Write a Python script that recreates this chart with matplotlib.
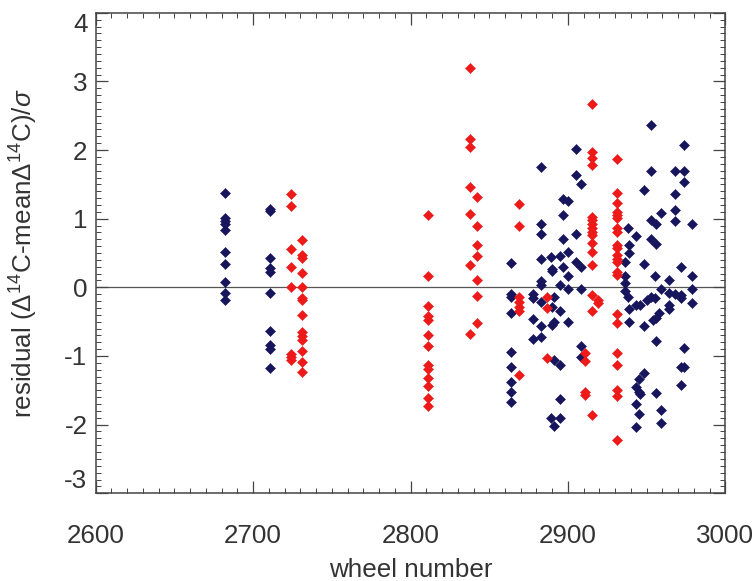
import numpy as np
import matplotlib
matplotlib.use("Agg")
import matplotlib.pyplot as plt
from matplotlib.ticker import MultipleLocator

# wheel numbers / normalised residuals
navy_x = [2682, 2682, 2682, 2682, 2682, 2682, 2682, 2682, 2682, 2682,
          2711, 2711, 2711, 2711, 2711, 2711, 2711, 2711, 2711, 2711,
          2864, 2864, 2864, 2864, 2864, 2864, 2864, 2864, 2864,
          2878, 2878, 2878, 2878,
          2883, 2883, 2883, 2883, 2883, 2883, 2883, 2883, 2883,
          2889, 2890, 2891, 2890, 2891, 2890, 2891, 2889, 2891, 2890,
          2895, 2895, 2895, 2895, 2895, 2895,
          2897, 2897, 2897, 2897,
          2900, 2900, 2900, 2900, 2900,
          2905, 2905, 2905, 2905,
          2908, 2908, 2908, 2908, 2908,
          2936, 2936, 2936, 2936, 2938,
          2938, 2939, 2939, 2939, 2939,
          2943, 2943, 2943, 2943, 2943,
          2946, 2945, 2945, 2946, 2945,
          2948, 2948, 2948, 2948, 2950,
          2953, 2953, 2953, 2953, 2953, 2954,
          2956, 2956, 2959, 2955, 2958, 2956, 2955,
          2956, 2956, 2959, 2959, 2959,
          2964, 2964, 2964, 2964,
          2968, 2968, 2968, 2968, 2968,
          2972, 2972, 2972, 2972, 2972,
          2974, 2974, 2974, 2974, 2974,
          2979, 2979, 2979, 2979]
navy_y = [1.38, 1.01, 0.97, 0.92, 0.83, 0.51, 0.34, 0.08, -0.08, -0.18,
          1.14, 1.11, 0.43, 0.28, 0.23, -0.08, -0.63, -0.84, -0.90, -1.18,
          0.36, -0.09, -0.14, -0.37, -0.94, -1.16, -1.38, -1.52, -1.67,
          -0.10, -0.16, -0.46, -0.75,
          1.76, 0.93, 0.78, 0.41, 0.09, 0.03, -0.21, -0.57, -0.73,
          0.44, 0.24, -0.14, -0.28, -0.50, -0.55, -1.06, -1.90, -2.02, 0.26,
          0.46, 0.04, -0.35, -1.13, -1.90, -1.63,
          1.29, 1.05, 0.70, 0.30,
          1.26, 0.52, 0.16, -0.02, -0.50,
          2.01, 1.64, 0.77, 0.37,
          1.50, 0.30, -0.03, -0.86, -1.02,
          0.37, 0.16, 0.06, -0.06, -0.14,
          0.86, 0.62, 0.50, -0.32, -0.50,
          0.75, -0.25, -1.45, -1.70, -2.03,
          -0.26, -1.33, -1.52, -1.55, -1.84,
          1.42, 0.34, -0.56, -1.25, -0.18,
          2.37, 1.69, 0.98, 0.71, -0.14, -0.47,
          0.92, 0.63, 1.08, 0.17, -0.38, -0.45, -0.16,
          -0.78, -1.54, -1.79, -1.97, -0.03,
          0.10, -0.08, -0.26, -0.31,
          1.69, 1.36, 1.13, 0.96, -0.09,
          0.30, -0.11, -0.16, -1.16, -1.42,
          2.08, 1.69, 1.53, -0.89, -1.16,
          0.92, 0.16, -0.03, -0.23]

red_x = [2724] * 8 + [2731] * 14 + [2811] * 13 + [2838] * 7 + [2842] * 7 \
    + [2869] * 7 + [2887] * 3 + [2911] * 4 + [2915] * 16 + [2919] * 2 + [2931] * 22
red_y = [1.36, 1.19, 0.56, 0.29, 0.01, -0.97, -1.02, -1.06,
         0.69, 0.47, 0.43, 0.21, 0.00, -0.15, -0.19, -0.40, -0.65, -0.71, -0.77, -0.93, -1.09, -1.24,
         1.06, 0.17, -0.27, -0.42, -0.48, -0.70, -0.85, -1.13, -1.19, -1.32, -1.43, -1.61, -1.73,
         3.20, 2.16, 2.04, 1.46, 1.07, 0.33, -0.68,
         1.32, 0.90, 0.61, 0.45, 0.11, -0.13, -0.52,
         1.21, 0.90, -0.14, -0.21, -0.28, -0.35, -1.28,
         -0.14, -0.30, -1.03,
         -0.96, -1.08, -1.52, -1.57,
         2.67, 1.97, 1.88, 1.78, 1.03, 0.98, 0.92, 0.87, 0.81, 0.76, 0.65, 0.51, 0.32, -0.11, -0.35, -1.86,
         -0.18, -0.23,
         1.87, 1.38, 1.23, 1.10, 1.05, 1.01, 0.86, 0.81, 0.62, 0.57, 0.47, 0.42, 0.37, 0.23, 0.18,
         -0.39, -0.52, -0.96, -1.13, -1.49, -1.58, -2.23]

x_ticks = [2600, 2700, 2800, 2900, 3000]
y_ticks = [-3, -2, -1, 0, 1, 2, 3, 4]

plt.rcParams['font.family'] = ['Liberation Sans', 'DejaVu Sans']
plt.rcParams['mathtext.fontset'] = 'custom'
plt.rcParams['mathtext.rm'] = 'Liberation Sans'
plt.rcParams['mathtext.it'] = 'Liberation Sans:italic'
plt.rcParams['axes.unicode_minus'] = False

txt = '#333333'
fig = plt.figure(figsize=(7.54, 5.81), dpi=100)
ax = fig.add_axes([0.127, 0.151, 0.835, 0.827])

ax.axhline(0, color='#555555', linewidth=0.9, zorder=1)
ax.plot(navy_x, navy_y, 'D', color='#17165c', markersize=4.9, markeredgewidth=0.4, zorder=3)
ax.plot(red_x, red_y, 'D', color='#ee1a1a', markersize=4.9, markeredgewidth=0.4, zorder=3)

ax.set_xlim(2600, 3000)
ax.set_ylim(-3, 4)
ax.set_xticks(x_ticks)
ax.set_yticks(y_ticks)
ax.xaxis.set_minor_locator(MultipleLocator(10))
ax.yaxis.set_minor_locator(MultipleLocator(0.1))
ax.tick_params(which='both', direction='in', top=True, right=True, colors='#444444', labelcolor=txt)
ax.tick_params(which='major', length=8.5, width=0.9)
ax.tick_params(which='minor', length=3.6, width=0.7)
ax.tick_params(axis='x', labelsize=18.7, pad=22)
ax.tick_params(axis='y', labelsize=18.7, pad=6)
for sp in ax.spines.values():
    sp.set_color('#444444')
    sp.set_linewidth(1.1)

# IDL style: end labels pulled inside the axis range
yt = ax.yaxis.get_major_ticks()
yt[-1].label1.set_va('top')
yt[0].label1.set_va('bottom')

ax.set_xlabel('wheel number', fontsize=18.7, color=txt, va='center')
ax.xaxis.set_label_coords(0.5, -0.16)
ax.set_ylabel(r'residual ($\Delta^{14}$C-mean$\Delta^{14}$C)/$\it{\sigma}$', fontsize=18.7, color=txt, va='center')
ax.yaxis.set_label_coords(-0.114, 0.5)

plt.savefig('out.png', dpi=100)
plt.close()
